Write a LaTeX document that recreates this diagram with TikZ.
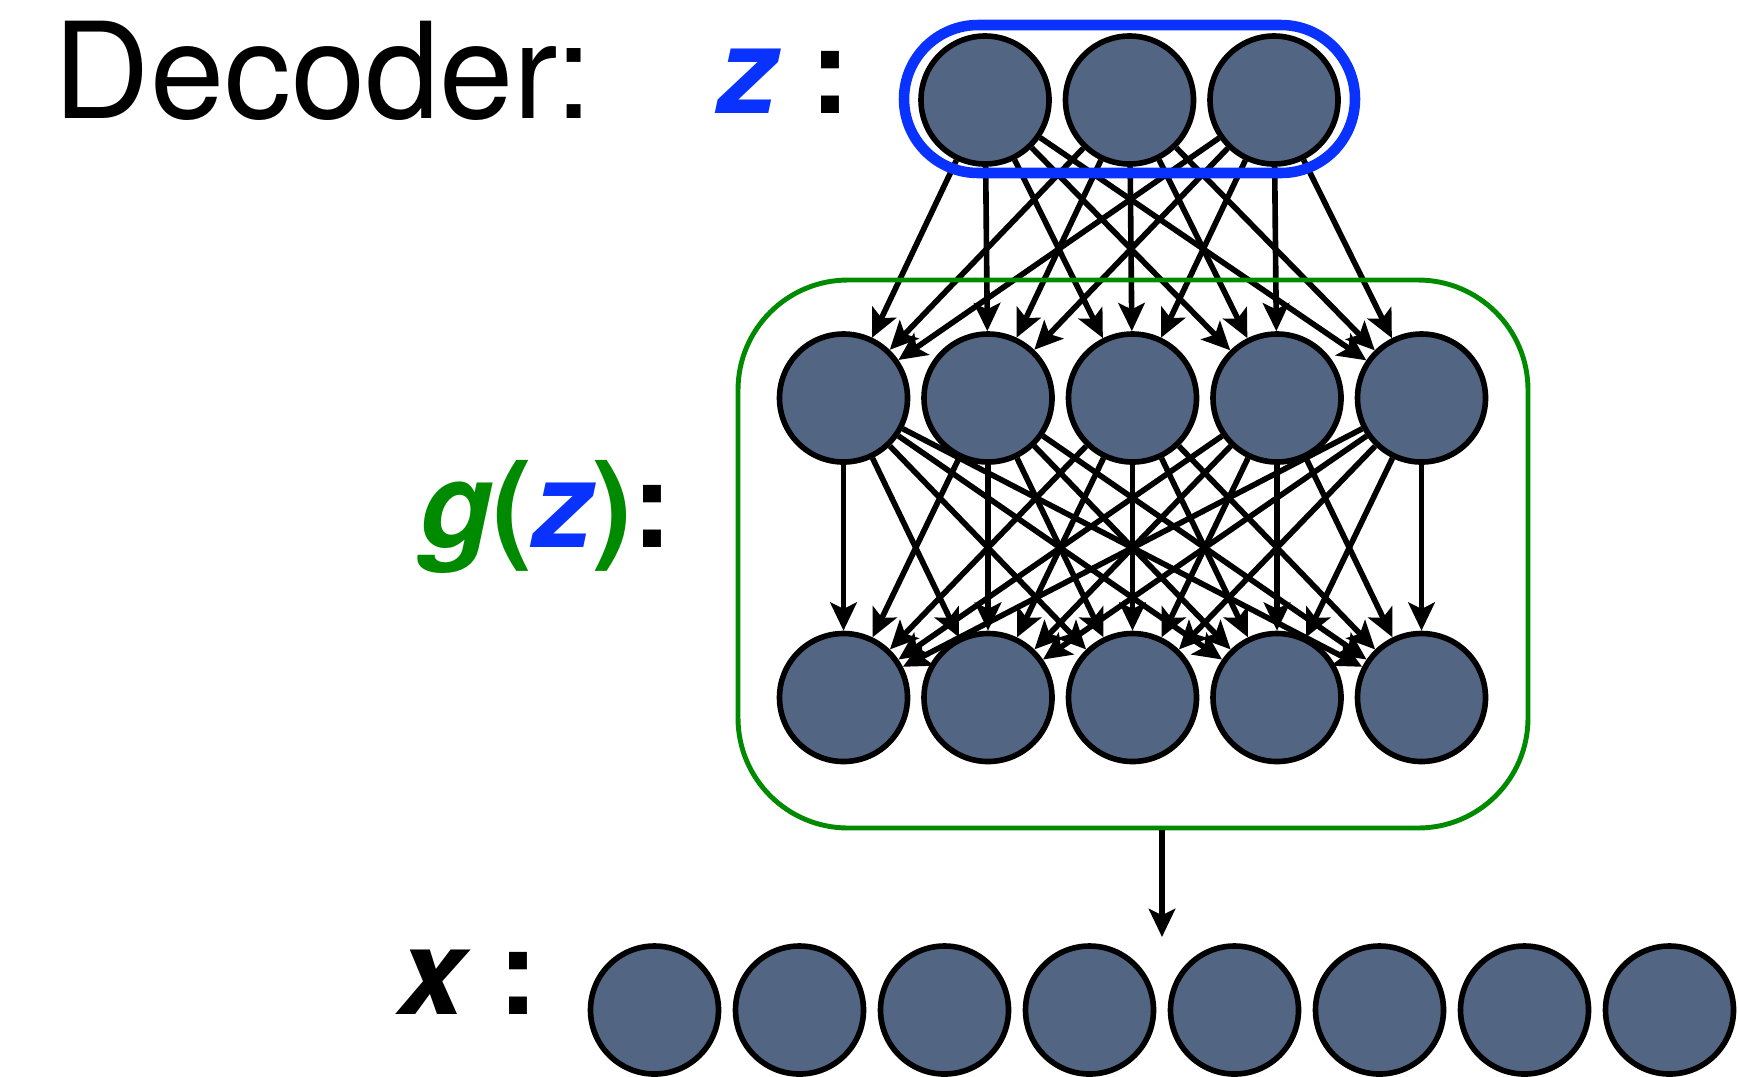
\documentclass[tikz,border=0pt]{standalone}
\usepackage{fontspec}
\setmainfont{TeX Gyre Heros}
\usetikzlibrary{arrows.meta}
\definecolor{cellblue}{RGB}{82,102,132}
\definecolor{zblue}{RGB}{10,50,255}
\definecolor{ggreen}{RGB}{0,138,0}

\begin{document}
\begin{tikzpicture}[
    neuron/.style={circle, draw=black, line width=1.6pt, fill=cellblue, minimum size=1.28cm, inner sep=0pt},
    arr/.style={-{Stealth[length=8pt, width=7.5pt, inset=1.8pt]}, line width=1.6pt},
    lbl/.style={anchor=base west, inner sep=0pt, font=\fontsize{34}{36}\selectfont\bfseries}
  ]
    \useasboundingbox (0,0) rectangle (17.38,-10.76);

    % layers
    \foreach \i in {1,2,3}
      \node[neuron] (z\i) at ({9.85+1.445*(\i-1)},-1.00) {};
    \foreach \i in {1,...,5}
      \node[neuron] (h\i) at ({8.435+1.445*(\i-1)},-3.98) {};
    \foreach \i in {1,...,5}
      \node[neuron] (o\i) at ({8.435+1.445*(\i-1)},-6.975) {};
    \foreach \i in {1,...,8}
      \node[neuron] (x\i) at ({6.545+1.45*(\i-1)},-10.10) {};

    % connections
    \foreach \i in {1,2,3}
      \foreach \j in {1,...,5}
        \draw[arr] (z\i) -- (h\j);
    \foreach \i in {1,...,5}
      \foreach \j in {1,...,5}
        \draw[arr] (h\i) -- (o\j);

    % groups
    \node[draw=zblue, line width=3pt, rounded corners=0.74cm, minimum width=4.51cm, minimum height=1.48cm] (zgroup) at (11.295,-0.99) {};
    \node[draw=ggreen, line width=1.4pt, rounded corners=1.1cm, minimum width=7.9cm, minimum height=5.48cm] (gbox) at (11.33,-5.54) {};
    \coordinate (xin) at (11.62,-9.37);
    \draw[arr] (gbox.south -| xin) -- (xin);

    % labels
    \node[anchor=base west, inner sep=0pt, font=\fontsize{38}{40}\selectfont] (title) at (0.53,-1.18) {Decoder:};
    \node[lbl] (zlbl) at (7.17,-1.13) {\textcolor{zblue}{\itshape z} :};
    \node[lbl] (glbl) at (4.19,-5.47) {\textcolor{ggreen}{{\itshape g}(}\textcolor{zblue}{\itshape z}\textcolor{ggreen}{)}:};
    \node[lbl] (xlbl) at (3.98,-10.14) {{\itshape x} :};
\end{tikzpicture}
\end{document}
